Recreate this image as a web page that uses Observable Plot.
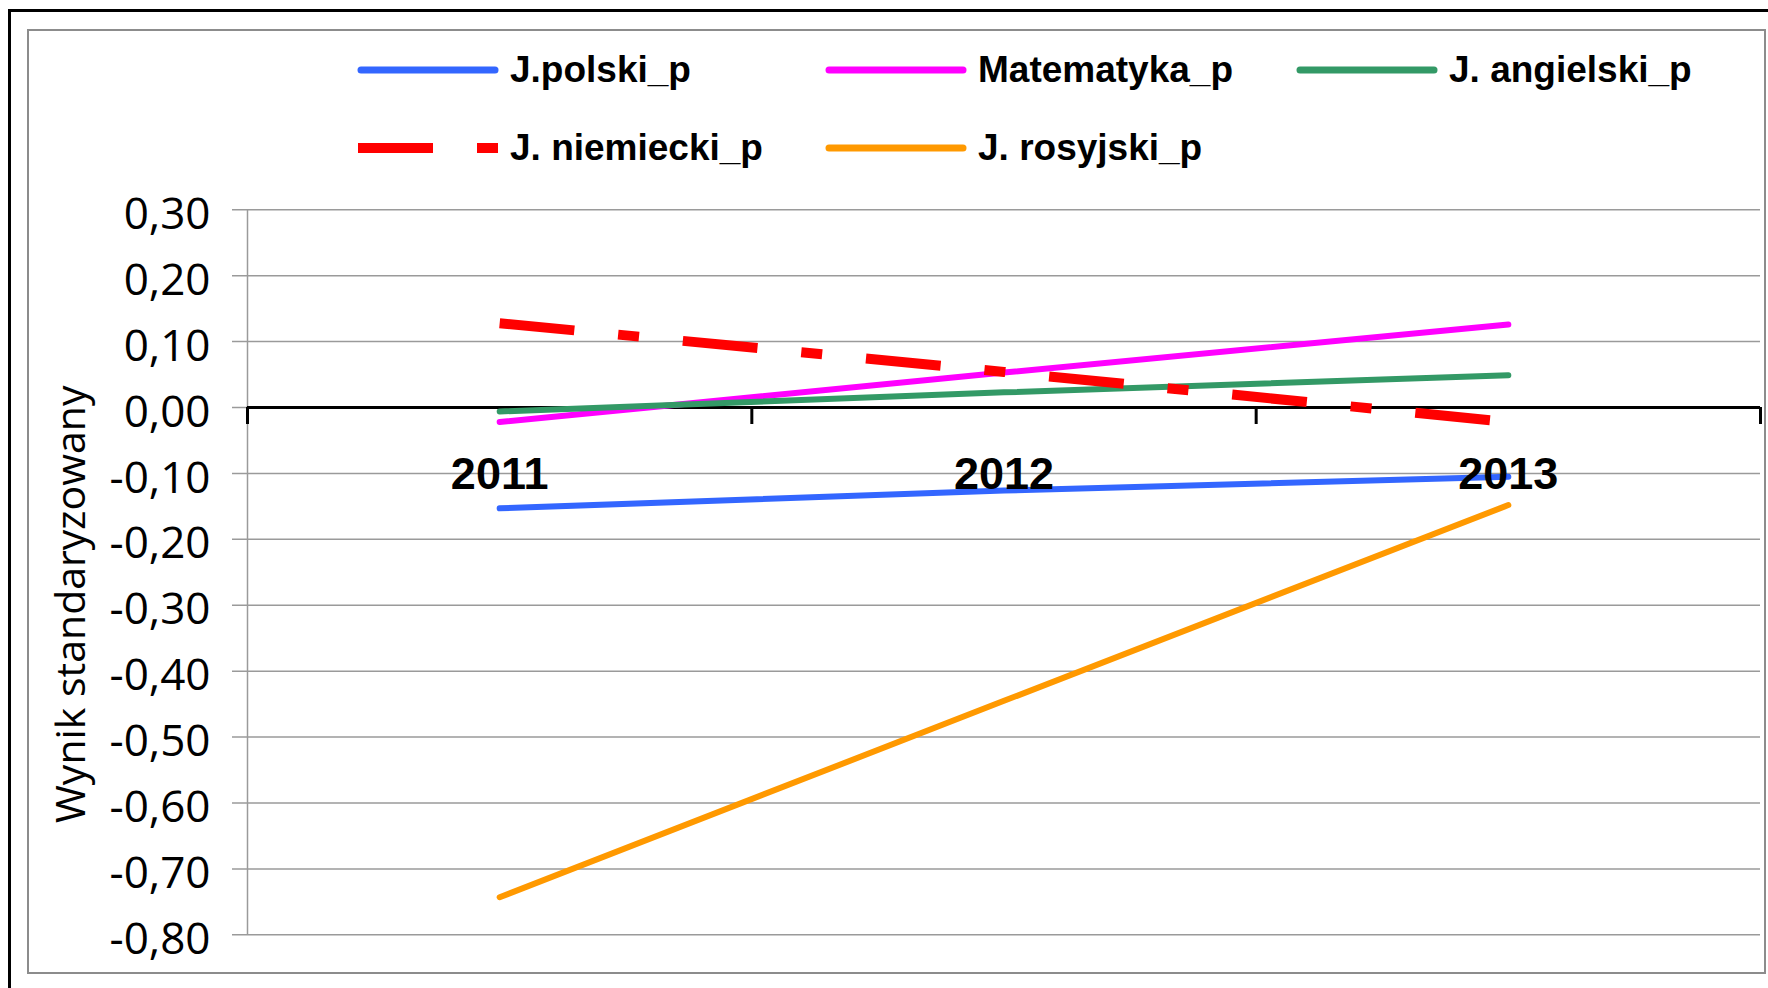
<!DOCTYPE html>
<html><head><meta charset="utf-8">
<script src="https://cdn.jsdelivr.net/npm/d3@7"></script>
<script src="https://cdn.jsdelivr.net/npm/@observablehq/plot@0.6"></script>
<style>
html,body{margin:0;padding:0;background:#fff;}
#wrap{position:relative;width:1768px;height:988px;overflow:hidden;background:#fff;}
#outer{position:absolute;left:8px;top:9px;width:1800px;height:1000px;border:3px solid #000;box-sizing:border-box;}
#inner{position:absolute;left:27px;top:29px;width:1739px;height:945px;border:2px solid #8c8c8c;box-sizing:border-box;}
#legend{position:absolute;left:356px;top:31px;display:grid;grid-template-columns:468px 471px 420px;grid-auto-rows:78px;}
.item{display:flex;align-items:center;font-family:"Liberation Sans",Arial,sans-serif;font-weight:bold;font-size:37px;color:#000;white-space:nowrap;}
.item svg{margin-right:10px;flex:none;}
#chart{position:absolute;left:0;top:170px;}
</style>
</head><body>
<div id="wrap">
  <div id="outer"></div>
  <div id="inner"></div>
  <div id="legend"></div>
  <div id="chart"></div>
</div>
<script>
// ---- data ----
const years = [2011, 2012, 2013];
const seriesNames = ["J.polski_p", "Matematyka_p", "J. angielski_p", "J. niemiecki_p", "J. rosyjski_p"];
const polski = [-0.153, -0.126, -0.105];
const matematyka = [-0.022, 0.053, 0.126];
const angielski = [-0.006, 0.023, 0.049];
const niemiecki = [0.128, 0.054, -0.022];
const rosyjski = [-0.743, -0.445, -0.148];
const seriesColors = ["#3366FF", "#FF00FF", "#339966", "#FF0000", "#FF9900"];
const seriesDashed = [false, false, false, true, false];
const yTicks = [0.3, 0.2, 0.1, 0, -0.1, -0.2, -0.3, -0.4, -0.5, -0.6, -0.7, -0.8];
const yLabel = "Wynik standaryzowany";

const valuesBySeries = [polski, matematyka, angielski, niemiecki, rosyjski];
const rows = [];
seriesNames.forEach((s, i) => years.forEach((yr, j) => rows.push({series: s, year: yr, value: valuesBySeries[i][j]})));
const boundaries = years.map(y => y - 0.5).concat([years[years.length - 1] + 0.5]);
const dashPattern = "75 44 21 44";

// ---- legend ----
const legend = document.getElementById("legend");
seriesNames.forEach((s, i) => {
  const item = document.createElement("div");
  item.className = "item";
  const dashed = seriesDashed[i];
  item.innerHTML = `<svg width="144" height="14"><line x1="${dashed ? 2 : 5}" x2="${dashed ? 142 : 139}" y1="7" y2="7" stroke="${seriesColors[i]}" stroke-width="${dashed ? 10 : 7}" stroke-linecap="${dashed ? "butt" : "round"}" ${dashed ? `stroke-dasharray="${dashPattern}"` : ""}/></svg><span>${s}</span>`;
  legend.appendChild(item);
});

// ---- chart ----
const fmt = d => d.toFixed(2).replace(".", ",");
const marks = [
  Plot.ruleY(yTicks, {stroke: "#9a9a9a", strokeWidth: 1.5, insetLeft: -15}),
  Plot.ruleX([boundaries[0]], {stroke: "#9a9a9a", strokeWidth: 1.5}),
  Plot.axisY(yTicks, {tickSize: 0, tickPadding: 37, tickFormat: fmt, fontSize: 44, dy: 5, fill: "#000", label: null}),
  Plot.ruleY([0], {stroke: "#000", strokeWidth: 3}),
  Plot.ruleX(boundaries, {x: d => d, y1: () => 0, y2: () => 0, insetBottom: -17, stroke: "#000", strokeWidth: 3})
];
seriesNames.forEach((s, i) => {
  const dashed = seriesDashed[i];
  marks.push(Plot.line(rows.filter(r => r.series === s), {
    x: "year", y: "value",
    stroke: seriesColors[i],
    strokeWidth: dashed ? 10 : 6,
    strokeLinecap: dashed ? "butt" : "round",
    strokeLinejoin: "round",
    strokeDasharray: dashed ? dashPattern : null
  }));
});
marks.push(Plot.text(years, {x: d => d, y: () => 0, text: d => String(d), dy: 67,
  fontFamily: "Liberation Sans", fontWeight: "bold", fontSize: 45, fill: "#000"}));
marks.push(Plot.text([yLabel], {frameAnchor: "left", textAnchor: "middle", rotate: -90, dx: -176, dy: 32,
  fontSize: 41, fontFamily: "Open Sans", fill: "#000"}));

const chart = Plot.plot({
  width: 1768,
  height: 800,
  marginTop: 39.3,
  marginBottom: 35.7,
  marginLeft: 247,
  marginRight: 8,
  x: {type: "linear", domain: [boundaries[0], boundaries[boundaries.length - 1]], axis: null},
  y: {domain: [-0.8, 0.3], axis: null},
  style: {fontFamily: "Open Sans", fontSize: "44px", background: "transparent", overflow: "visible", color: "#000"},
  marks
});
document.getElementById("chart").appendChild(chart);
</script>
</body></html>
